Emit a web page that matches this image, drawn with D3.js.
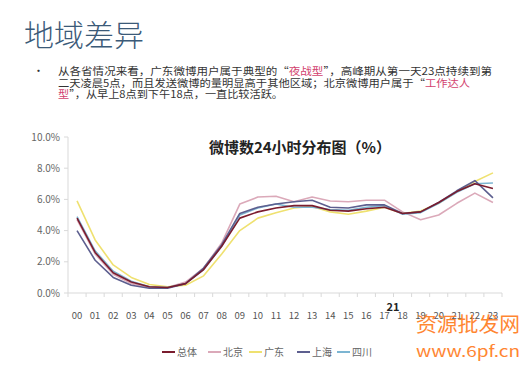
<!DOCTYPE html>
<html>
<head>
<meta charset="utf-8">
<script src="https://cdn.jsdelivr.net/npm/d3@7"></script>
<style>
  body { margin: 0; background: #fff; }
  text { font-family: "Noto Sans CJK SC", "Noto Sans", sans-serif; }
</style>
</head>
<body>
<script>
var hours = ["00","01","02","03","04","05","06","07","08","09","10","11",
             "12","13","14","15","16","17","18","19","20","21","22","23"];
var seriesNames = ["总体", "北京", "广东", "上海", "四川"];
var seriesColors = ["#7a1c2e", "#dba9b9", "#efe170", "#5d5f8f", "#7cb5d2"];
var total    = [4.8,2.6,1.3,0.7,0.4,0.35,0.6,1.5,3.0,4.8,5.2,5.45,5.6,5.6,5.3,5.25,5.4,5.5,5.1,5.2,5.8,6.5,7.0,6.7];
var beijing  = [4.7,2.5,1.2,0.6,0.35,0.35,0.7,1.6,3.2,5.7,6.15,6.2,5.85,6.15,5.9,5.85,5.95,5.95,5.2,4.7,5.0,5.75,6.4,5.8];
var guangdong= [5.9,3.4,1.8,1.0,0.55,0.4,0.5,1.1,2.5,4.0,4.8,5.15,5.45,5.55,5.2,5.05,5.25,5.5,5.1,5.25,5.75,6.5,7.15,7.7];
var shanghai = [4.0,2.1,1.0,0.5,0.3,0.3,0.6,1.6,3.1,5.1,5.5,5.7,5.85,5.95,5.5,5.45,5.65,5.65,5.1,5.2,5.8,6.55,7.2,6.1];
var sichuan  = [4.9,2.7,1.4,0.75,0.4,0.35,0.6,1.5,3.0,5.0,5.45,5.7,5.5,5.5,5.35,5.3,5.5,5.6,5.05,5.15,5.75,6.45,7.0,7.05];
var yTicks = [0, 2, 4, 6, 8, 10];

var allSeries = [total, beijing, guangdong, shanghai, sichuan];

var svg = d3.select("body").append("svg")
    .attr("width", 529)
    .attr("height", 365);

// page heading
svg.append("text")
    .attr("x", 24).attr("y", 46)
    .style("font-size", "30px")
    .style("font-weight", 300)
    .style("fill", "#3b5a78")
    .text("地域差异");

svg.append("text")
    .attr("x", 33).attr("y", 75)
    .style("font-size", "11px")
    .style("fill", "#333")
    .text("•");

var bodyLines = [
  [["从各省情况来看，广东微博用户属于典型的“", 0], ["夜战型", 1], ["”，高峰期从第一天23点持续到第", 0]],
  [["二天凌晨5点，而且发送微博的量明显高于其他区域；北京微博用户属于“", 0], ["工作达人", 1]],
  [["型", 1], ["”，从早上8点到下午18点，一直比较活跃。", 0]]
];
var lineWidths = [434, 412, 225];

bodyLines.forEach(function (parts, i) {
  var t = svg.append("text")
      .attr("x", 58).attr("y", 75 + i * 11.5)
      .attr("textLength", lineWidths[i])
      .attr("lengthAdjust", "spacingAndGlyphs")
      .style("font-size", "10.5px")
      .style("fill", "#333");
  parts.forEach(function (p) {
    t.append("tspan")
        .style("fill", p[1] ? "#d2426e" : "#333")
        .text(p[0]);
  });
});

// chart
var x = d3.scaleBand().domain(hours).range([68, 502]);
var y = d3.scaleLinear().domain([0, 10]).range([293, 137]);

var grid = "#d9d9d9";

svg.append("line")
    .attr("x1", 68).attr("x2", 68)
    .attr("y1", y(10)).attr("y2", y(0))
    .style("stroke", grid);

svg.selectAll(".ytick")
    .data(yTicks)
    .enter()
    .append("line")
    .attr("x1", 64).attr("x2", 68)
    .attr("y1", function (d) { return y(d); })
    .attr("y2", function (d) { return y(d); })
    .style("stroke", grid);

svg.selectAll(".ylabel")
    .data(yTicks)
    .enter()
    .append("text")
    .attr("x", 60)
    .attr("y", function (d) { return y(d) + 3.5; })
    .attr("text-anchor", "end")
    .style("font-size", "10px")
    .style("fill", "#666")
    .text(function (d) { return d3.format(".1%")(d / 100); });

svg.append("line")
    .attr("x1", 68).attr("x2", 502)
    .attr("y1", y(0)).attr("y2", y(0))
    .style("stroke", grid);

svg.selectAll(".xtick")
    .data(hours.concat(["end"]))
    .enter()
    .append("line")
    .attr("x1", function (d, i) { return 68 + i * x.bandwidth(); })
    .attr("x2", function (d, i) { return 68 + i * x.bandwidth(); })
    .attr("y1", y(0)).attr("y2", y(0) + 4)
    .style("stroke", grid);

svg.selectAll(".xlabel")
    .data(hours)
    .enter()
    .append("text")
    .attr("x", function (d) { return x(d) + x.bandwidth() / 2; })
    .attr("y", 319)
    .attr("text-anchor", "middle")
    .style("font-size", "9.5px")
    .style("fill", "#555")
    .text(function (d) { return d; });

svg.append("text")
    .attr("x", 300).attr("y", 153)
    .attr("text-anchor", "middle")
    .style("font-size", "15px")
    .style("font-weight", "bold")
    .style("fill", "#222")
    .text("微博数24小时分布图（%）");

var line = d3.line()
    .x(function (d, i) { return x(hours[i]) + x.bandwidth() / 2; })
    .y(function (d) { return y(d); });

var drawOrder = [1, 2, 4, 3, 0];
drawOrder.forEach(function (k) {
  svg.append("path")
      .datum(allSeries[k])
      .attr("d", line)
      .style("fill", "none")
      .style("stroke", seriesColors[k])
      .style("stroke-width", 1.6)
      .style("stroke-linejoin", "round");
});

// legend
var legendX = [162, 208, 249, 297, 337];
seriesNames.forEach(function (name, i) {
  svg.append("line")
      .attr("x1", legendX[i]).attr("x2", legendX[i] + 13)
      .attr("y1", 352).attr("y2", 352)
      .style("stroke", seriesColors[i])
      .style("stroke-width", 2);
  svg.append("text")
      .attr("x", legendX[i] + 15).attr("y", 356)
      .style("font-size", "10px")
      .style("fill", "#666")
      .text(name);
});

// stray label and watermark in the source image
svg.append("text")
    .attr("x", 393).attr("y", 311)
    .attr("text-anchor", "middle")
    .style("font-size", "11px")
    .style("font-weight", "bold")
    .style("fill", "#222")
    .text("21");

svg.append("text")
    .attr("x", 416).attr("y", 332)
    .attr("textLength", 104)
    .attr("lengthAdjust", "spacingAndGlyphs")
    .style("font-size", "20px")
    .style("fill", "#ff7a1a")
    .style("opacity", 0.9)
    .text("资源批发网");

svg.append("text")
    .attr("x", 416).attr("y", 357)
    .attr("textLength", 104)
    .attr("lengthAdjust", "spacingAndGlyphs")
    .style("font-size", "15px")
    .style("fill", "#ff7a1a")
    .style("opacity", 0.9)
    .text("www.6pf.cn");
</script>
</body>
</html>
